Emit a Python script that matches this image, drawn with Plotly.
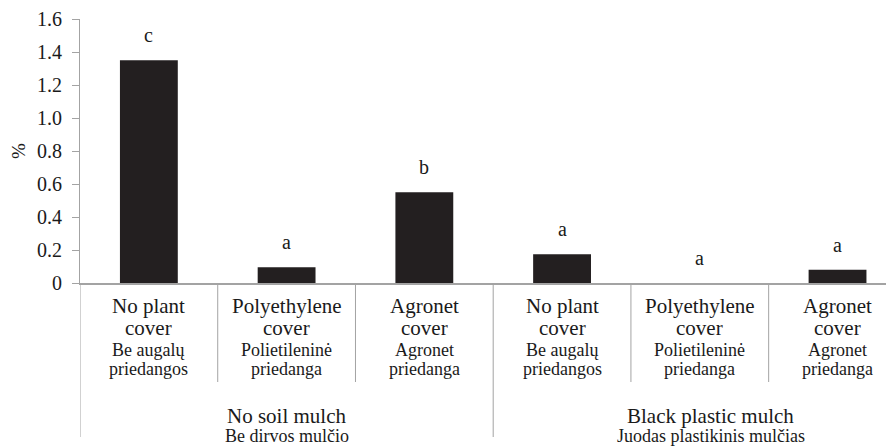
import plotly.graph_objects as go

# ---- data ----
categories = ["NSM-NPC", "NSM-PE", "NSM-AG", "BPM-NPC", "BPM-PE", "BPM-AG"]
values = [1.35, 0.095, 0.55, 0.175, 0.0, 0.08]
letters = ["c", "a", "b", "a", "a", "a"]
cover_en_1 = ["No plant", "Polyethylene", "Agronet", "No plant", "Polyethylene", "Agronet"]
cover_en_2 = ["cover", "cover", "cover", "cover", "cover", "cover"]
cover_lt_1 = ["Be augalų", "Polietileninė", "Agronet", "Be augalų", "Polietileninė", "Agronet"]
cover_lt_2 = ["priedangos", "priedanga", "priedanga", "priedangos", "priedanga", "priedanga"]
groups_en = ["No soil mulch", "Black plastic mulch"]
groups_lt = ["Be dirvos mulčio", "Juodas plastikinis mulčias"]
tick_vals = [0, 0.2, 0.4, 0.6, 0.8, 1.0, 1.2, 1.4, 1.6]
tick_text = ["0", "0.2", "0.4", "0.6", "0.8", "1.0", "1.2", "1.4", "1.6"]

FONT = "Times New Roman, Liberation Serif, Tinos, serif"
GRAY = "#a3a3a3"
BAR = "#231f20"
TXT = "#1a1a1a"
OFF = 8  # body margin of the page

x = list(range(len(categories)))

fig = go.Figure()
fig.add_trace(go.Bar(x=x, y=values, width=0.42, marker=dict(color=BAR, line=dict(width=0)),
                     hoverinfo="skip"))

annotations = []
for i, (v, l) in enumerate(zip(values, letters)):
    annotations.append(dict(x=i, y=v, xref="x", yref="y", text=l, showarrow=False,
                            yshift=25, font=dict(family=FONT, size=20, color=TXT)))

def py(p):
    return (283 - p) / 264.0

rows = [(cover_en_1, 21, 306), (cover_en_2, 21, 328), (cover_lt_1, 18, 350), (cover_lt_2, 18, 369)]
for labels, size, pix in rows:
    for i, t in enumerate(labels):
        annotations.append(dict(x=i, y=py(pix), xref="x", yref="paper", text=t, showarrow=False,
                                xanchor="center", yanchor="middle",
                                font=dict(family=FONT, size=size, color=TXT)))

group_x = [1, 4.08]
for gx, ge, gl in zip(group_x, groups_en, groups_lt):
    annotations.append(dict(x=gx, y=py(416), xref="x", yref="paper", text=ge, showarrow=False,
                            xanchor="center", yanchor="middle",
                            font=dict(family=FONT, size=21, color=TXT)))
    annotations.append(dict(x=gx, y=py(436), xref="x", yref="paper", text=gl, showarrow=False,
                            xanchor="center", yanchor="middle",
                            font=dict(family=FONT, size=18, color=TXT)))

shapes = []
for b in [0.5, 1.5, 3.5, 4.5]:
    shapes.append(dict(type="line", xref="x", yref="paper", x0=b, x1=b, y0=0, y1=py(382),
                       line=dict(color=GRAY, width=1)))
for b in [-0.5, 2.5]:
    shapes.append(dict(type="line", xref="x", yref="paper", x0=b, x1=b, y0=0, y1=py(437),
                       line=dict(color=GRAY, width=1)))

fig.update_layout(
    width=894, height=447,
    font=dict(family=FONT, color=TXT),
    margin=dict(l=80 - OFF, r=OFF, t=19 - OFF, b=164 + OFF),
    paper_bgcolor="white", plot_bgcolor="white",
    showlegend=False,
    annotations=annotations,
    shapes=shapes,
    xaxis=dict(range=[-0.5, 5.41], showticklabels=False, ticks="", showgrid=False,
               zeroline=False, showline=True, linecolor=GRAY, linewidth=1.5, fixedrange=True),
    yaxis=dict(range=[0, 1.6], tickvals=tick_vals, ticktext=tick_text, ticks="outside",
               ticklen=7, tickcolor=GRAY, showline=True, linecolor=GRAY, linewidth=1,
               showgrid=False, zeroline=False, ticklabelstandoff=6,
               tickfont=dict(family=FONT, size=20, color=TXT),
               title=dict(text="%", standoff=12, font=dict(family=FONT, size=19, color=TXT)),
               automargin=False, fixedrange=True),
)

fig.write_html("out.html")
